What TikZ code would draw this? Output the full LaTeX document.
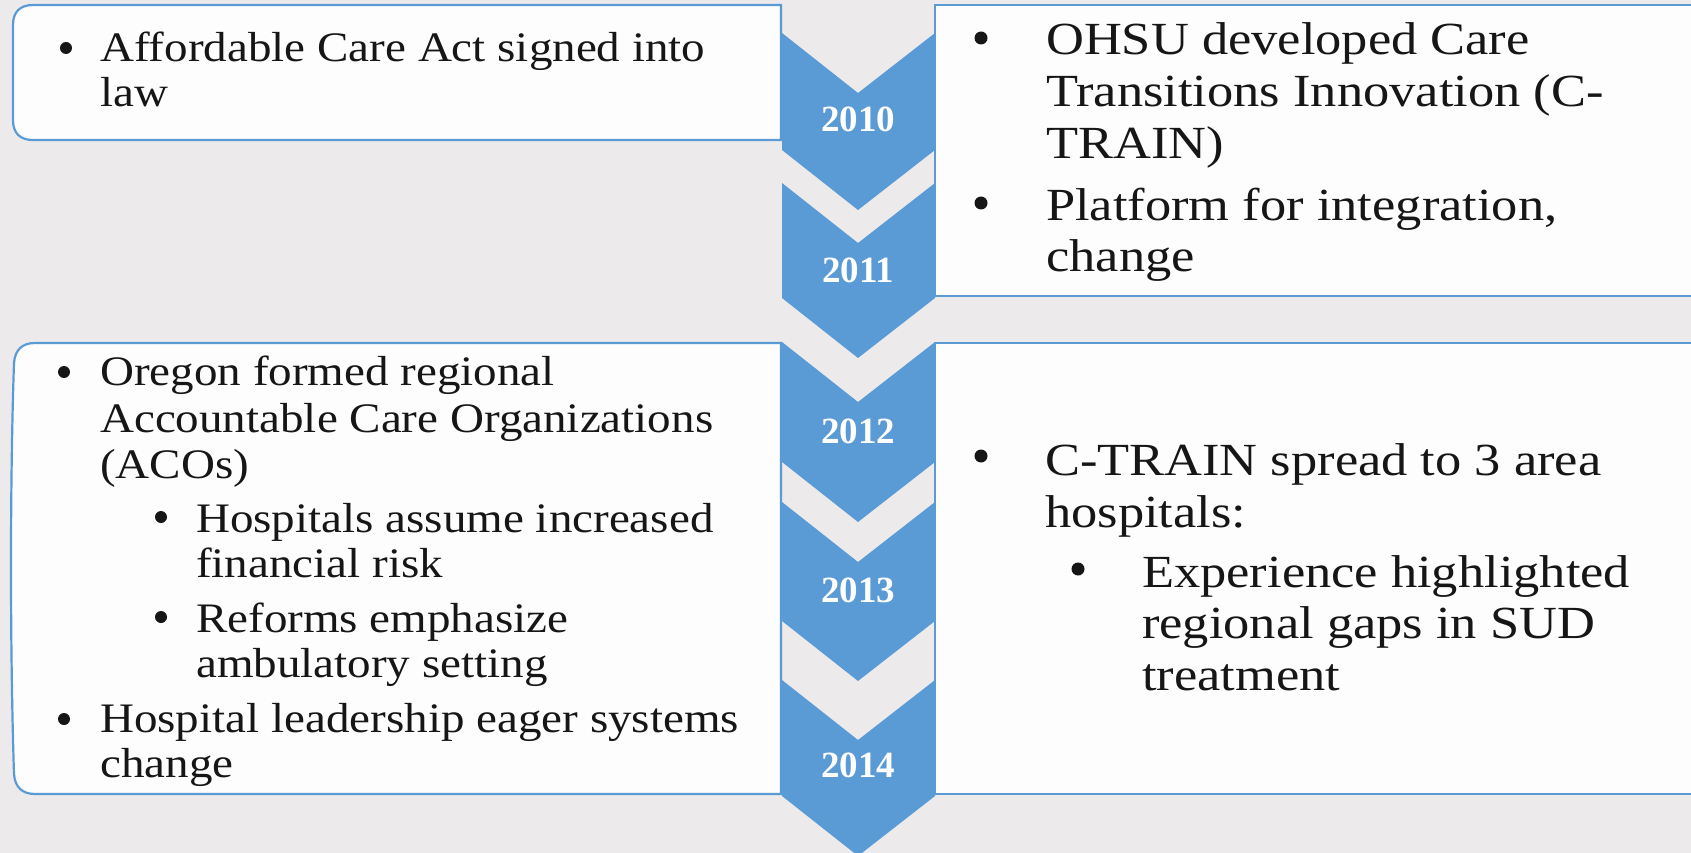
\documentclass[tikz,border=0pt]{standalone}
\usepackage{fontspec}
\setmainfont{Liberation Serif}
\newfontfamily\leftface[FakeStretch=1.12]{Liberation Serif}
\newfontfamily\rightface[FakeStretch=1.14]{Liberation Serif}
\definecolor{bg}{RGB}{236,234,235}
\definecolor{accent}{RGB}{91,155,213}
\definecolor{paper}{RGB}{253,253,253}
\definecolor{ink}{RGB}{22,22,22}

% one chevron of the year column: top corner y, bottom corner y
\newcommand\yearchevron[2]{%
  \fill[accent] (782,#1) -- (858,#1+60) -- (935,#1) -- (935,#2) -- (858,#2+60) -- (782,#2) -- cycle;}

\begin{document}
\begin{tikzpicture}[x=1pt,y=-1pt,
  panel/.style={fill=paper,draw=accent,line width=2.2pt},
  year/.style={text=white,anchor=base,inner sep=0pt,font=\fontsize{37}{40}\selectfont\bfseries},
  lft/.style={anchor=base west,inner sep=0pt,text=ink,font=\leftface\fontsize{42}{45}\selectfont},
  rgt/.style={anchor=base west,inner sep=0pt,text=ink,font=\rightface\fontsize{46}{52}\selectfont},
  dotl/.style={circle,fill=ink,inner sep=0pt,minimum size=12pt},
  dotr/.style={circle,fill=ink,inner sep=0pt,minimum size=13pt}]
\useasboundingbox (0,0) rectangle (1691,853);
\clip (0,0) rectangle (1691,853);
\fill[bg] (0,0) rectangle (1691,853);

% text panels
\draw[panel] (781,5) -- (33,5) .. controls (20,5) and (13,12) .. (13,25)
  -- (13,120) .. controls (13,133) and (20,140) .. (33,140) -- (781,140) -- cycle;
\draw[panel] (1700,5) -- (935,5) -- (935,296) -- (1700,296) -- cycle;
\draw[panel] (781,343) -- (35,343) .. controls (22,343) and (15,350) .. (14,363)
  .. controls (10,480) and (10,650) .. (14,774)
  .. controls (15,787) and (22,794) .. (35,794) -- (781,794) -- cycle;
\draw[panel] (1700,343) -- (935,343) -- (935,794) -- (1700,794) -- cycle;

% year column
\yearchevron{33}{150}
\yearchevron{183}{298}
\yearchevron{342}{462}
\yearchevron{502}{621}
\yearchevron{680}{796}
\node[year] (y2010) at (858,132) {2010};
\node[year] (y2011) at (858,282) {2011};
\node[year] (y2012) at (858,443) {2012};
\node[year] (y2013) at (858,602) {2013};
\node[year] (y2014) at (858,777) {2014};

% 2010 (left)
\node[dotl] (d1) at (66,48) {};
\node[lft] (t1a) at (100,62) {Affordable Care Act signed into};
\node[lft] (t1b) at (100,107) {law};

% 2010-2011 (right)
\node[dotr] (d2) at (981,38) {};
\node[rgt] (t2a) at (1046,55) {OHSU developed Care};
\node[rgt] (t2b) at (1046,107) {Transitions Innovation (C-};
\node[rgt] (t2c) at (1046,159) {TRAIN)};
\node[dotr] (d3) at (981,203) {};
\node[rgt] (t3a) at (1046,220) {Platform for integration,};
\node[rgt] (t3b) at (1046,271) {change};

% 2012-2014 (left)
\node[dotl] (d4) at (64,372) {};
\node[lft] (t4a) at (100,385) {Oregon formed regional};
\node[lft] (t4b) at (100,432) {Accountable Care Organizations};
\node[lft] (t4c) at (100,478) {(ACOs)};
\node[dotl] (d5) at (161,517) {};
\node[lft] (t5a) at (196,532) {Hospitals assume increased};
\node[lft] (t5b) at (196,577) {financial risk};
\node[dotl] (d6) at (161,617) {};
\node[lft] (t6a) at (196,632) {Reforms emphasize};
\node[lft] (t6b) at (196,677) {ambulatory setting};
\node[dotl] (d7) at (64,719) {};
\node[lft] (t7a) at (100,732) {Hospital leadership eager systems};
\node[lft] (t7b) at (100,777) {change};

% 2012-2014 (right)
\node[dotr] (d8) at (981,456) {};
\node[rgt] (t8a) at (1045,475) {C-TRAIN spread to 3 area};
\node[rgt] (t8b) at (1045,527) {hospitals:};
\node[dotr] (d9) at (1078,569) {};
\node[rgt] (t9a) at (1142,587) {Experience highlighted};
\node[rgt] (t9b) at (1142,638) {regional gaps in SUD};
\node[rgt] (t9c) at (1142,690) {treatment};
\end{tikzpicture}
\end{document}
